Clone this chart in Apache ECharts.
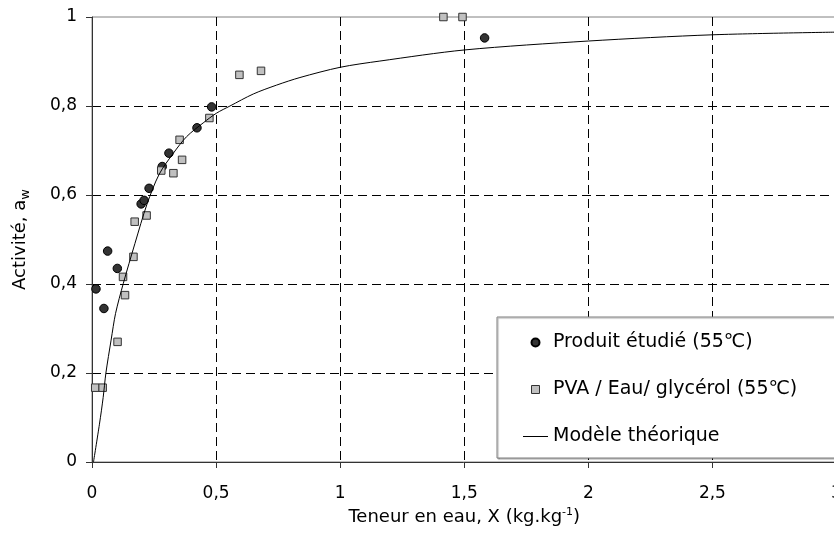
<!DOCTYPE html>
<html>
<head>
<meta charset="utf-8">
<script src="https://cdn.jsdelivr.net/npm/echarts@6/dist/echarts.min.js"></script>
<style>
html,body{margin:0;padding:0;background:#fff;}
#chart{width:834px;height:541px;}
</style>
</head>
<body>
<div id="chart"></div>
<script>
// Produit étudié (55℃)
const produitX = [0.016, 0.048, 0.063, 0.102, 0.198, 0.210, 0.230, 0.283, 0.310, 0.423, 0.482, 1.582];
const produitY = [0.389, 0.345, 0.474, 0.435, 0.580, 0.588, 0.615, 0.664, 0.694, 0.751, 0.798, 0.953];
// PVA / Eau/ glycérol (55℃)
const pvaX = [0.013, 0.043, 0.103, 0.125, 0.133, 0.167, 0.172, 0.220, 0.279, 0.328, 0.353, 0.363, 0.473, 0.594, 0.681, 1.416, 1.493];
const pvaY = [0.167, 0.167, 0.270, 0.416, 0.375, 0.461, 0.540, 0.554, 0.655, 0.649, 0.724, 0.679, 0.773, 0.870, 0.879, 1.000, 1.000];
// Modèle théorique
const modeleX = [0.006, 0.030, 0.045, 0.056, 0.077, 0.095, 0.126, 0.173, 0.222, 0.271, 0.328, 0.381, 0.448, 0.502, 0.556, 0.650, 0.744, 0.838, 1.000, 1.160, 1.502, 2.000, 2.500, 3.000];
const modeleY = [0.000, 0.085, 0.145, 0.200, 0.274, 0.334, 0.401, 0.491, 0.580, 0.647, 0.694, 0.731, 0.762, 0.784, 0.800, 0.827, 0.847, 0.864, 0.887, 0.901, 0.926, 0.946, 0.960, 0.966];

const seriesNames = ['Produit étudié (55℃)', 'PVA / Eau/ glycérol (55℃)', 'Modèle théorique'];
const xTitle = 'Teneur en eau, X (kg.kg{sup|-1})';
const yTitle = '{n|Activité, a}{sub|w}';

const pairs = (xs, ys) => xs.map((x, i) => [x, ys[i]]);
const fmt = v => String(v).replace('.', ',');
const FONT = 'DejaVu Sans';

const chart = echarts.init(document.getElementById('chart'), null, {renderer: 'canvas'});
chart.setOption({
  animation: false,
  backgroundColor: '#fff',
  textStyle: {fontFamily: FONT, color: '#000'},
  grid: {left: 92, top: 17, width: 744.5, height: 445, show: true, borderColor: '#808080', borderWidth: 1,
         backgroundColor: 'transparent', containLabel: false, outerBoundsMode: 'none'},
  xAxis: {
    type: 'value', min: 0, max: 3, interval: 0.5,
    name: xTitle, nameLocation: 'middle', nameGap: 44,
    nameTextStyle: {fontFamily: FONT, fontSize: 18, color: '#000',
      rich: {sup: {fontFamily: FONT, fontSize: 11, padding: [0, 0, 10, 0], color: '#000'}}},
    axisLine: {show: true, lineStyle: {color: '#333', width: 1}},
    axisTick: {show: true, inside: false, length: 6, lineStyle: {color: '#333'}},
    axisLabel: {fontFamily: FONT, fontSize: 17, color: '#000', margin: 23, formatter: fmt, showMaxLabel: true},
    splitLine: {show: true, showMinLine: false, showMaxLine: false, lineStyle: {color: '#000', type: [9, 5], width: 1}}
  },
  yAxis: {
    type: 'value', min: 0, max: 1, interval: 0.2,
    name: yTitle, nameLocation: 'middle', nameGap: 60,
    nameTextStyle: {fontFamily: FONT, fontSize: 18, color: '#000',
      rich: {n: {fontFamily: FONT, fontSize: 18, color: '#000'}, sub: {fontFamily: FONT, fontSize: 13, padding: [10, 0, 0, 0], color: '#000'}}},
    axisLine: {show: true, lineStyle: {color: '#333', width: 1}},
    axisTick: {show: true, inside: false, length: 6, lineStyle: {color: '#333'}},
    axisLabel: {fontFamily: FONT, fontSize: 17, color: '#000', margin: 15, formatter: fmt},
    splitLine: {show: true, showMinLine: false, showMaxLine: false, lineStyle: {color: '#000', type: [9, 5], width: 1}}
  },
  legend: {
    orient: 'vertical', left: 497, top: 317,
    padding: [16, 60, 12, 26],
    itemWidth: 25, itemHeight: 8, itemGap: 28,
    symbolKeepAspect: true,
    backgroundColor: '#fff', borderColor: '#808080', borderWidth: 1,
    shadowColor: 'rgba(0,0,0,0.35)', shadowOffsetX: 1, shadowOffsetY: 1, shadowBlur: 1,
    textStyle: {fontFamily: FONT, fontSize: 19, lineHeight: 19, color: '#000'},
    data: [
      {name: seriesNames[0], icon: 'circle'},
      {name: seriesNames[1], icon: 'path://M0,0L10,0L10,10L0,10Z', itemStyle: {color: '#c0c0c0', borderColor: '#333', borderWidth: 1}},
      {name: seriesNames[2], icon: 'path://M0,0L25,0L25,1L0,1Z', itemStyle: {color: '#000', borderWidth: 0}}
    ]
  },
  series: [
    {
      name: seriesNames[0], type: 'scatter', data: pairs(produitX, produitY),
      symbol: 'circle', symbolSize: 8.5,
      itemStyle: {color: '#333333', borderColor: '#000', borderWidth: 1, opacity: 1}
    },
    {
      name: seriesNames[1], type: 'scatter', data: pairs(pvaX, pvaY),
      symbol: 'rect', symbolSize: 7.5,
      itemStyle: {color: '#c0c0c0', borderColor: '#333', borderWidth: 1, opacity: 1}
    },
    {
      name: seriesNames[2], type: 'line', data: pairs(modeleX, modeleY),
      smooth: 0.3, symbol: 'none', showSymbol: false,
      lineStyle: {color: '#000', width: 1},
      itemStyle: {color: '#000'}
    }
  ]
});
</script>
</body>
</html>
